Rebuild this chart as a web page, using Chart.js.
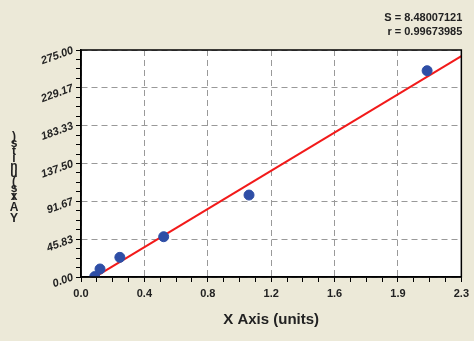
<!DOCTYPE html>
<html>
<head>
<meta charset="utf-8">
<script src="https://cdn.jsdelivr.net/npm/chart.js@4/dist/chart.umd.min.js"></script>
<style>
  html, body { margin:0; padding:0; background:#ECE9D8; }
  #wrap { width:474px; height:341px; position:relative; }
</style>
</head>
<body>
<div id="wrap"><canvas id="c" width="474" height="341"></canvas></div>
<script>
// ---- datos ----
const pointsX = [0.083, 0.115, 0.235, 0.50, 1.016, 2.093];
const pointsY = [0.5, 9.7, 23.8, 48.8, 99.3, 249.9];
const fitX = [0.08, 2.3];
const fitY = [-0.5, 267.5];

const xTickLabels = ['0.0', '0.4', '0.8', '1.2', '1.6', '1.9', '2.3'];
const yTickLabels = ['0.00', '45.83', '91.67', '137.50', '183.33', '229.17', '275.00'];
const xMax = 2.3;
const yMax = 275;
const minorDiv = 4;

const statLines = ['S = 8.48007121', 'r = 0.99673985'];
const xTitle = 'X Axis (units)';
const yTitle = 'Y Axis (units)';

// ticks mayores + menores
function buildTicks(max, n){
  const out = [];
  for(let i = 0; i <= n * minorDiv; i++){
    out.push({ value: max * i / (n * minorDiv), major: i % minorDiv === 0, idx: i / minorDiv });
  }
  return out;
}

// ---- plugins simples ----
const bgPlugin = {
  id: 'bg',
  beforeDraw(chart){
    const { ctx, chartArea: a } = chart;
    ctx.save();
    ctx.fillStyle = '#ECE9D8';
    ctx.fillRect(0, 0, chart.width, chart.height);
    ctx.fillStyle = '#FFFFFF';
    ctx.fillRect(a.left, a.top, a.right - a.left, a.bottom - a.top);
    ctx.restore();
  },
  afterDraw(chart){
    const { ctx, chartArea: a } = chart;
    ctx.save();
    // marco
    ctx.strokeStyle = '#000';
    ctx.lineWidth = 1.5;
    ctx.strokeRect(a.left, a.top, a.right - a.left, a.bottom - a.top);
    // textos S / r
    ctx.fillStyle = '#222';
    ctx.font = 'bold 11px "Liberation Sans", Arial, sans-serif';
    ctx.textAlign = 'right';
    ctx.textBaseline = 'middle';
    statLines.forEach((s, i) => ctx.fillText(s, a.right + 1, 18 + i * 14));
    // título X
    ctx.textAlign = 'center';
    ctx.font = 'bold 15px "Liberation Sans", Arial, sans-serif';
    ctx.fillStyle = '#222';
    ctx.fillText(xTitle, (a.left + a.right) / 2, 320);
    // título Y (letras apiladas, al revés como en el original)
    ctx.font = 'bold 12px "Liberation Sans", Arial, sans-serif';
    const chars = yTitle.replace(/ /g, '').split('');
    chars.forEach((ch, i) => ctx.fillText(ch, 14, 219 - i * (i < 3 ? 11 : 7.5)));
    ctx.restore();
  }
};

const tickFont = { family: '"Liberation Sans", Arial, sans-serif', size: 11, weight: 'bold' };

new Chart(document.getElementById('c'), {
  type: 'scatter',
  data: {
    datasets: [
      {
        type: 'line',
        data: fitX.map((x, i) => ({ x, y: fitY[i] })),
        borderColor: '#F21A1A',
        borderWidth: 2,
        pointRadius: 0,
        fill: false,
        order: 2
      },
      {
        data: pointsX.map((x, i) => ({ x, y: pointsY[i] })),
        backgroundColor: '#2E4EA6',
        borderColor: '#2E4EA6',
        pointRadius: 5,
        order: 1
      }
    ]
  },
  options: {
    responsive: false,
    animation: false,
    layout: { padding: { left: 0, right: 12, top: 50, bottom: 0 } },
    plugins: { legend: { display: false }, tooltip: { enabled: false } },
    scales: {
      x: {
        type: 'linear',
        min: 0, max: xMax,
        afterBuildTicks: s => { s.ticks = buildTicks(xMax, xTickLabels.length - 1); },
        afterFit: s => { s.height = 64; },
        ticks: {
          autoSkip: false,
          maxRotation: 0,
          color: '#222',
          font: tickFont,
          padding: 5,
          callback: function(v, i, ticks){ const t = ticks[i]; return t.major ? xTickLabels[t.idx] : ''; }
        },
        grid: {
          color: c => (c.tick && c.tick.major) ? '#999999' : 'rgba(0,0,0,0)',
          tickColor: '#000',
          tickLength: 5,
          lineWidth: 1
        },
        border: { display: true, color: '#000', width: 1.5, dash: [6, 4] }
      },
      y: {
        type: 'linear',
        min: 0, max: yMax,
        afterBuildTicks: s => { s.ticks = buildTicks(yMax, yTickLabels.length - 1); },
        afterFit: s => { s.width = 81; },
        ticks: {
          autoSkip: false,
          minRotation: 20,
          maxRotation: 20,
          color: '#222',
          font: { family: '"Liberation Sans", Arial, sans-serif', size: 11, style: 'italic', weight: 'bold' },
          padding: 3,
          callback: function(v, i, ticks){ const t = ticks[i]; return t.major ? yTickLabels[t.idx] : ''; }
        },
        grid: {
          color: c => (c.tick && c.tick.major) ? '#999999' : 'rgba(0,0,0,0)',
          tickColor: '#000',
          tickLength: 5,
          lineWidth: 1
        },
        border: { display: true, color: '#000', width: 1.5, dash: [6, 4] }
      }
    }
  },
  plugins: [bgPlugin]
});
</script>
</body>
</html>
